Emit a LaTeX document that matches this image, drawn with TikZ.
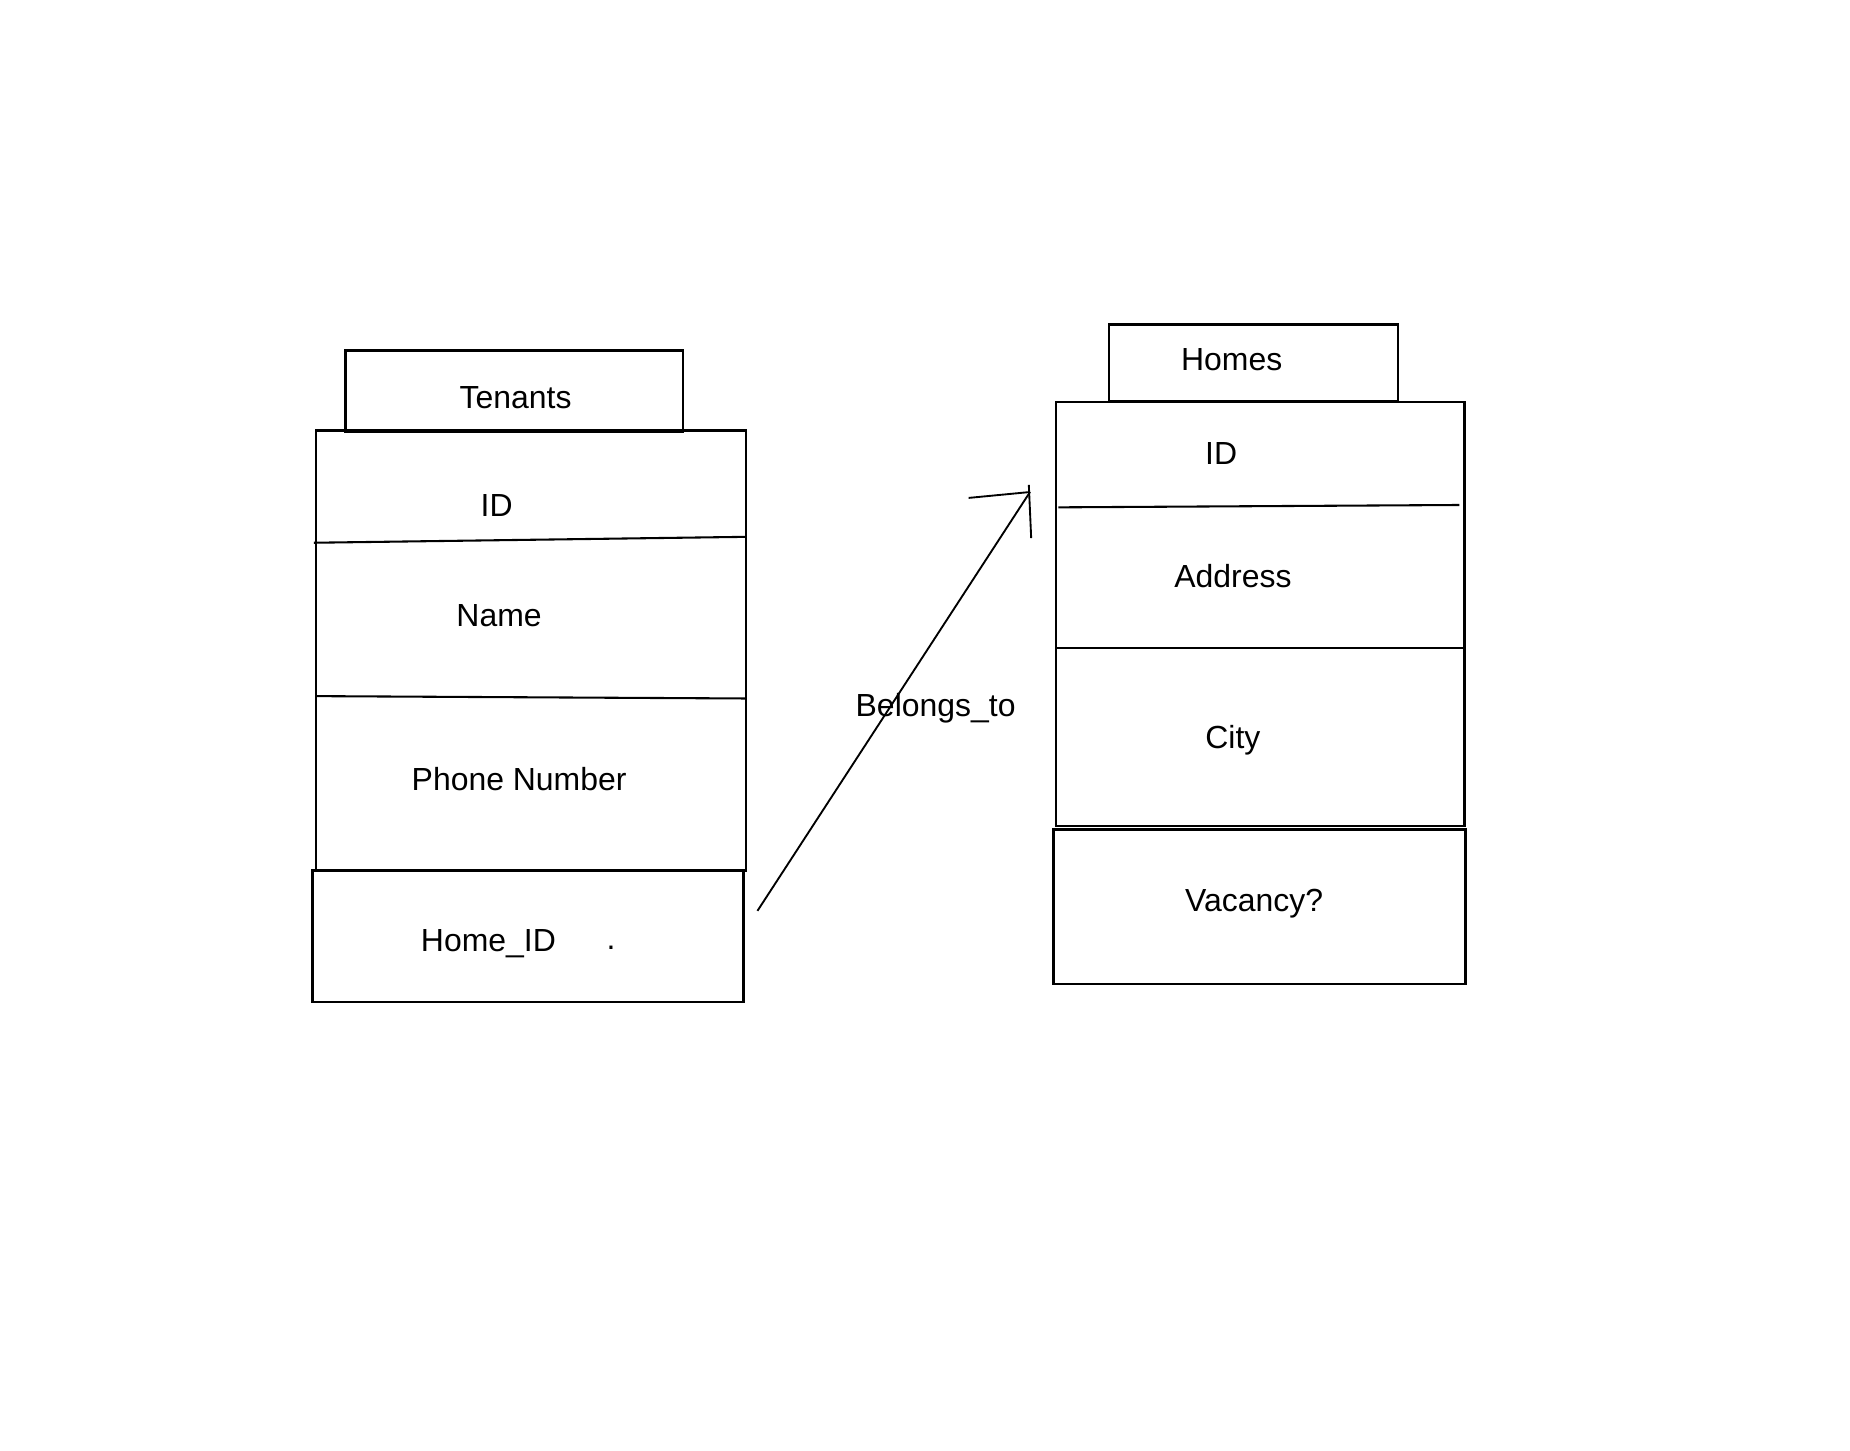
\documentclass[tikz,border=0pt]{standalone}
\usepackage{fontspec}
\setmainfont{Liberation Sans}
\usetikzlibrary{positioning}
\tikzset{every node/.append style={align=center}}

\begin{document}
\begin{tikzpicture}[x=0.01cm, y=-0.01cm,
    tablebox/.style={draw, line width=0.6pt, inner sep=0pt},
    fieldtext/.style={font=\fontsize{7.7}{9}\selectfont, inner sep=0pt, text height=0.716em, text depth=0pt},
    divider/.style={line width=0.5pt},
    link/.style={line width=0.45pt}]
    \useasboundingbox (0,0) rectangle (1568,1229);

    % Tenants
    \node[tablebox, minimum width=2.86cm, minimum height=0.69cm] (tenants) at (436,331.5) {};
    \node[fieldtext] (tenantsname) at (437,334) {Tenants};
    \node[tablebox, minimum width=3.64cm, minimum height=3.73cm] (tmain) at (450,551.5) {};
    \draw[divider] (266,460) -- (632,455);
    \draw[divider] (268,590) -- (632,592);
    \node[fieldtext] (tid) at (421,425) {ID};
    \node[fieldtext] (tname) at (423,518) {Name};
    \node[fieldtext] (tphone) at (440,657) {Phone Number};
    \node[tablebox, minimum width=3.65cm, minimum height=1.11cm] (thomeid) at (447.5,793.5) {};
    \node[fieldtext] (thome) at (414,794) {Home\_ID};
    \node[font=\fontsize{7.7}{9}\selectfont, inner sep=0pt, anchor=base] (tdot) at (518,805) {.};

    % Homes
    \node[tablebox, minimum width=2.45cm, minimum height=0.65cm] (homes) at (1062.5,307.5) {};
    \node[fieldtext] (homesname) at (1044,301) {Homes};
    \node[tablebox, minimum width=3.46cm, minimum height=3.59cm] (hmain) at (1068,520.5) {};
    \draw[divider] (897,430) -- (1237,428);
    \draw[divider] (895,549) -- (1241,549);
    \node[fieldtext] (hid) at (1035,381) {ID};
    \node[fieldtext] (haddress) at (1045,485) {Address};
    \node[fieldtext] (hcity) at (1045,622) {City};
    \node[tablebox, minimum width=3.49cm, minimum height=1.31cm] (hvacancy) at (1067.5,768.5) {};
    \node[fieldtext] (hvac) at (1063,760) {Vacancy?};

    % Relationship
    \coordinate (tail) at (642,772);
    \coordinate (tip) at (873,417);
    \draw[link] (tail) -- (tip);
    \draw[link] (tip) -- ++(-52,5);
    \draw[link] (tip) ++(-1,-6) -- ++(2,45);
    \node[fieldtext] (belongs) at (793,595) {Belongs\_to};
\end{tikzpicture}
\end{document}
